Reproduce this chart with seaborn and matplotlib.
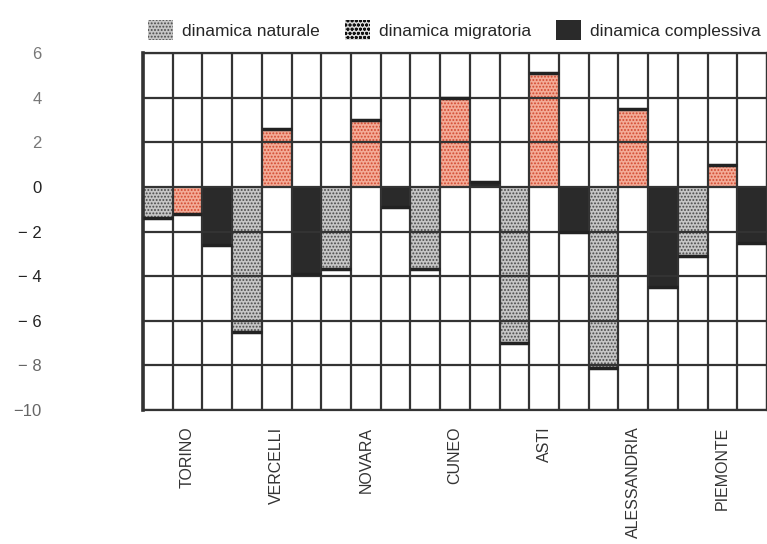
import numpy as np
import pandas as pd
import matplotlib
matplotlib.use("Agg")
import matplotlib.pyplot as plt
from matplotlib.patches import Patch
import seaborn as sns

# ── data ───────────────────────────────────────────────────────────────
PROVINCE    = ["TORINO", "VERCELLI", "NOVARA", "CUNEO", "ASTI", "ALESSANDRIA", "PIEMONTE"]
NATURALE    = [-1.4, -6.5, -3.7, -3.7, -7.0, -8.1, -3.1]
MIGRATORIA  = [-1.2, 2.6, 3.0, 4.0, 5.1, 3.5, 1.0]
COMPLESSIVA = [-2.6, -3.9, -0.9, 0.2, -2.0, -4.5, -2.5]
SERIE       = ["dinamica naturale", "dinamica migratoria", "dinamica complessiva"]
Y_TICKS     = [6, 4, 2, 0, -2, -4, -6, -8, -10]
Y_LABELS    = ["6", "4", "2", "0", "\u2212 2", "\u2212 4", "\u2212 6", "\u2212 8", "\u221210"]

df = pd.DataFrame({"provincia": PROVINCE, SERIE[0]: NATURALE,
                   SERIE[1]: MIGRATORIA, SERIE[2]: COMPLESSIVA})
df = df.melt(id_vars="provincia", var_name="dinamica", value_name="valore")

FACE  = ["#c6c6c6", "#f3ab97", "#2a2a2a"]
HATCH = [".....", ".....", None]
HCOL  = ["#4a4a4a", "#d24a30", "#2a2a2a"]
GRID  = "#333333"

sns.set_theme(style="white")
plt.rcParams["font.family"] = ["Liberation Sans", "DejaVu Sans"]
plt.rcParams["hatch.linewidth"] = 0.9

fig = plt.figure(figsize=(7.67, 5.44), dpi=100)
ax = fig.add_axes([143 / 767, 1 - 410 / 544, 1 - 143 / 767, (410 - 53) / 544])

sns.barplot(data=df, x="provincia", y="valore", hue="dinamica", hue_order=SERIE,
            palette=FACE, width=1.0, gap=0, saturation=1, errorbar=None,
            legend=False, ax=ax)

for cont, h, hc in zip(ax.containers, HATCH, HCOL):
    for p in cont:
        p.set_linewidth(0)
        p.set_edgecolor(hc)
        if h:
            p.set_hatch(h)
        # dark band at the tip of each bar
        v = p.get_height()
        ax.hlines(v, p.get_x(), p.get_x() + p.get_width(), color="#222222",
                  lw=2.5, zorder=3)

ax.set_xlim(-0.5, len(PROVINCE) - 0.5)
ax.set_ylim(-10, 6)
ax.set_yticks(Y_TICKS)
ax.set_yticklabels(Y_LABELS)
ax.set_xticks(np.arange(-0.5, len(PROVINCE) - 0.5 + 0.01, 1 / 3), minor=True)
ax.set_axisbelow(False)
ax.grid(which="minor", axis="x", color=GRID, lw=1.6, zorder=4)
ax.grid(which="major", axis="y", color=GRID, lw=1.6, zorder=4)
ax.grid(which="major", axis="x", visible=False)
ax.set_xlabel("")
ax.set_ylabel("")

for s in ax.spines.values():
    s.set_visible(True)
    s.set_color(GRID)
    s.set_linewidth(1.6)
ax.spines["left"].set_linewidth(2.6)

ax.tick_params(axis="y", which="both", length=0, pad=73, labelsize=12, labelcolor="#222222")
ax.tick_params(axis="x", which="both", length=0, pad=12, labelsize=11.5, labelcolor="#333333")
for t in ax.get_xticklabels():
    t.set_rotation(90)
    t.set_va("top")
for t in ax.get_yticklabels()[:3]:
    t.set_color("#777777")
for t in ax.get_yticklabels()[-2:]:
    t.set_color("#666666")

handles = [Patch(facecolor=FACE[0], edgecolor=HCOL[0], hatch=".....", lw=0),
           Patch(facecolor="#d9d9d9", edgecolor="#111111", hatch="oooo", lw=0),
           Patch(facecolor=FACE[2], edgecolor=FACE[2], lw=0)]
fig.legend(handles, SERIE, ncol=3, loc="center left",
           bbox_to_anchor=(148 / 767, 1 - 30 / 544), frameon=False,
           fontsize=12.5, handlelength=1.45, handleheight=1.35,
           handletextpad=0.5, columnspacing=1.45, borderpad=0, borderaxespad=0)

fig.savefig("out.png", dpi=100)
